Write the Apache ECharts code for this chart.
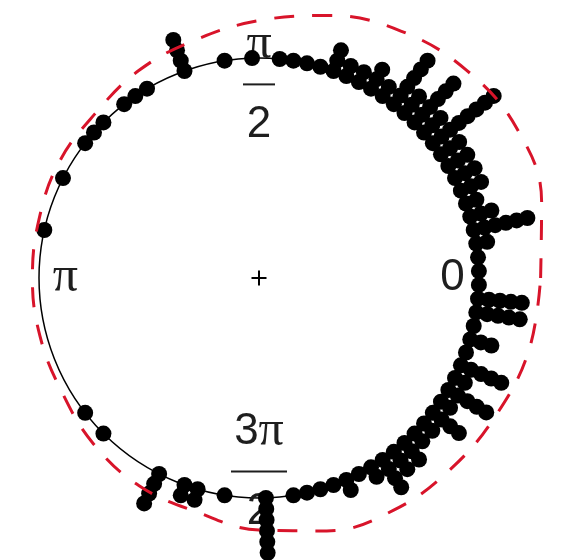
<!DOCTYPE html>
<html>
<head>
<meta charset="utf-8">
<script src="https://cdn.jsdelivr.net/npm/echarts@6/dist/echarts.min.js"></script>
<style>
  html, body { margin: 0; padding: 0; background: #ffffff; }
  #chart { width: 564px; height: 560px; }
</style>
</head>
<body>
<div id="chart"></div>
<script>
// Binned directions (degrees, counter-clockwise from east) and how many observations fall in each bin
const pointAngles = [1.8, 5.4, 9, 12.6, 16.2, 19.8, 23.4, 27, 30.6, 34.2, 37.8, 41.4, 45, 48.6, 52.2,
  55.8, 59.4, 63, 66.6, 70.2, 73.8, 77.4, 81, 84.6, 91.8, 99, 109.8, 120.6, 124.2, 127.8, 135,
  138.6, 142.2, 153, 167.4, 217.8, 225, 243, 250.2, 253.8, 261, 271.8, 279, 282.6, 286.2, 289.8,
  293.4, 297, 300.6, 304.2, 307.8, 311.4, 315, 318.6, 322.2, 325.8, 329.4, 333, 336.6, 340.2,
  343.8, 347.4, 351, 354.6, 358.2];
const pointCounts = [1, 1, 2, 6, 3, 2, 3, 3, 3, 3, 8, 3, 6, 3, 6,
  2, 3, 2, 2, 3, 1, 1, 1, 1, 1, 1, 4, 1, 1, 1, 1,
  1, 1, 1, 1, 1, 1, 4, 2, 2, 1, 6, 1, 1, 1, 1,
  2, 1, 2, 4, 3, 3, 2, 2, 4, 2, 5, 2, 5, 1,
  3, 1, 5, 5, 1];

// Kernel density estimate, drawn outward from the unit circle
const densityAngles = [0, 15, 30, 45, 60, 75, 90, 105, 120, 135, 150, 165, 180,
  195, 210, 225, 240, 255, 270, 285, 300, 315, 330, 345, 360];
const densityValues = [0.28, 0.33, 0.355, 0.335, 0.295, 0.235, 0.17, 0.12, 0.09, 0.055, 0.05, 0.035, 0.03,
  0.03, 0.035, 0.065, 0.09, 0.1, 0.145, 0.19, 0.22, 0.23, 0.245, 0.27, 0.28];

// Angular tick labels
const tickAngles = [0, 90, 180, 270];
const tickLabels = ['0', 'π/2', 'π', '3π/2'];

const STACK_STEP = 0.05;    // radial spacing between stacked points
const LABEL_RADIUS = 0.88;  // where the tick labels sit, inside the circle
const OUTER = 1.5;          // radial extent of the data polar (unit circle = 1)
const UNIT_PX = 220;        // pixel radius of the unit circle
const CENTER = [259, 278];
const TEXT = '#1e1e1e';

const dots = [];
pointAngles.forEach((a, i) => {
  for (let k = 0; k < pointCounts[i]; k++) dots.push([1 + k * STACK_STEP, a]);
});

const densityLine = densityAngles.map((a, i) => [1 + densityValues[i], a]);
const labelData = tickAngles.map((a, i) => ({ name: tickLabels[i], value: [LABEL_RADIUS, a] }));

// Split a string into rich-text tokens: π in a serif face, everything else sans
function tokens(str, prefix) {
  let out = '';
  for (const ch of str) out += '{' + prefix + (ch === 'π' ? 'P' : 'S') + '|' + ch + '}';
  return out;
}
function formatTick(p) {
  const t = p.name;
  if (t.indexOf('/') >= 0) {
    const parts = t.split('/');
    const bar = parts[0].length > 1 ? 'barW' : 'bar';
    return tokens(parts[0], 'n') + '\n{' + bar + '|}\n' + tokens(parts[1], 'd');
  }
  return tokens(t, 'c');
}
const SANS = 'Liberation Sans, Arial, sans-serif';
const SERIF = 'Liberation Serif, Times New Roman, serif';
const FS = 44, FP = 50, LH = 76;
const rich = {
  nS: { fontFamily: SANS, fontSize: FS, lineHeight: LH, color: TEXT },
  nP: { fontFamily: SERIF, fontSize: FP, lineHeight: LH, color: TEXT },
  dS: { fontFamily: SANS, fontSize: FS, lineHeight: LH, color: TEXT },
  dP: { fontFamily: SERIF, fontSize: FP, lineHeight: LH, color: TEXT },
  cS: { fontFamily: SANS, fontSize: FS, lineHeight: 50, color: TEXT },
  cP: { fontFamily: SERIF, fontSize: FP, lineHeight: 50, color: TEXT },
  bar: { width: 32, height: 2, lineHeight: 4, backgroundColor: TEXT },
  barW: { width: 56, height: 2, lineHeight: 4, backgroundColor: TEXT }
};

const hiddenAxis = {
  axisLine: { show: false }, axisTick: { show: false }, axisLabel: { show: false }, splitLine: { show: false }
};

const chart = echarts.init(document.getElementById('chart'), null, { renderer: 'canvas' });
chart.setOption({
  backgroundColor: '#ffffff',
  animation: false,
  polar: [
    { center: CENTER, radius: UNIT_PX },            // unit circle
    { center: CENTER, radius: UNIT_PX * OUTER }     // data
  ],
  angleAxis: [
    {
      polarIndex: 0, type: 'value', min: 0, max: 360, startAngle: 0, clockwise: false,
      axisLine: { show: true, lineStyle: { color: '#000000', width: 1.5 } },
      axisTick: { show: false }, axisLabel: { show: false }, splitLine: { show: false }
    },
    Object.assign({ polarIndex: 1, type: 'value', min: 0, max: 360, startAngle: 0, clockwise: false }, hiddenAxis)
  ],
  radiusAxis: [
    Object.assign({ polarIndex: 0, type: 'value', min: 0, max: 1 }, hiddenAxis),
    Object.assign({ polarIndex: 1, type: 'value', min: 0, max: OUTER }, hiddenAxis)
  ],
  series: [
    {
      // tick labels
      type: 'scatter', coordinateSystem: 'polar', polarIndex: 1, z: 1, silent: true,
      symbolSize: 1, itemStyle: { color: 'rgba(0,0,0,0)', opacity: 1 },
      data: labelData,
      label: { show: true, position: 'inside', opacity: 1, formatter: formatTick, rich: rich }
    },
    {
      // centre mark
      type: 'scatter', coordinateSystem: 'polar', polarIndex: 1, z: 1, silent: true,
      symbol: 'path://M0,6.5H15V8.5H0Z M6.5,0H8.5V15H6.5Z', symbolSize: 15,
      itemStyle: { color: '#000000', opacity: 1 },
      data: [[0, 0]]
    },
    {
      // stacked observations
      type: 'scatter', coordinateSystem: 'polar', polarIndex: 1, z: 3, silent: true,
      symbol: 'circle', symbolSize: 16,
      itemStyle: { color: '#000000', opacity: 1 },
      data: dots
    },
    {
      // density curve
      type: 'line', coordinateSystem: 'polar', polarIndex: 1, z: 4, silent: true,
      smooth: 0.4, symbol: 'none',
      lineStyle: { color: '#d8142a', width: 3, type: [20, 18] },
      data: densityLine
    }
  ]
});
</script>
</body>
</html>
